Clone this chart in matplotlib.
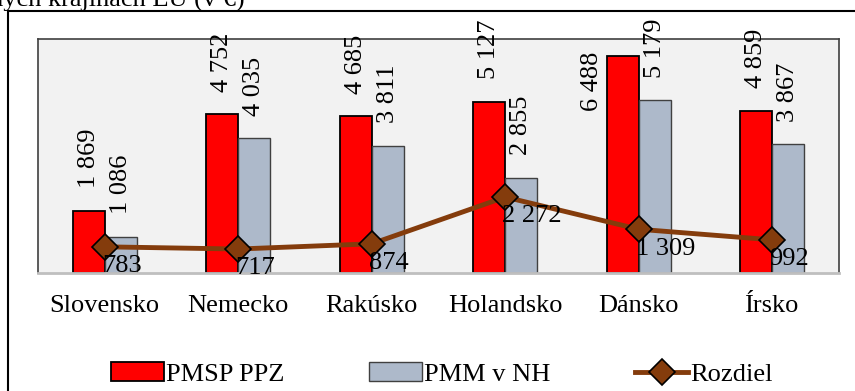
import numpy as np
import matplotlib
matplotlib.use('Agg')
import matplotlib.pyplot as plt
from matplotlib.patches import Rectangle

plt.rcParams['font.family'] = ['Liberation Serif', 'DejaVu Serif']

countries = ['Slovensko', 'Nemecko', 'Rakúsko', 'Holandsko', 'Dánsko', 'Írsko']
pmsp_ppz = [1869, 4752, 4685, 5127, 6488, 4859]
pmm_nh = [1086, 4035, 3811, 2855, 5179, 3867]
rozdiel = [783, 717, 874, 2272, 1309, 992]

def fmt(v):
    return '{:,}'.format(v).replace(',', ' ')

fs = 19
ymax = 7000
fig = plt.figure(figsize=(8.55, 3.91), dpi=100)
ax = fig.add_axes([38/855, 1-273/391, (839-38)/855, (273-39)/391])
ax.set_facecolor('#F2F2F2')

x = np.arange(len(countries))
w = 0.24
b1 = ax.bar(x - w/2, pmsp_ppz, w, color='#FF0000', edgecolor='black', linewidth=1.3, label='PMSP PPZ', zorder=2)
b2 = ax.bar(x + w/2, pmm_nh, w, color='#ADB9CA', edgecolor='#404040', linewidth=1.0, label='PMM v NH', zorder=2)
ln, = ax.plot(x, rozdiel, color='#843C0C', lw=3.5, marker='D', ms=13, mfc='#843C0C',
              mec='black', mew=1.2, label='Rozdiel', zorder=3)

for xi, v in zip(x - w/2, pmsp_ppz):
    if v > 0.9 * ymax:
        # no room above the bar: label goes to its left side
        ax.annotate(fmt(v), (xi - w/2, v), xytext=(-3, 3), textcoords='offset points', rotation=90,
                    ha='right', va='top', fontsize=fs, annotation_clip=False)
    else:
        ax.annotate(fmt(v), (xi, v), xytext=(0, 16), textcoords='offset points', rotation=90,
                    ha='center', va='bottom', fontsize=fs, annotation_clip=False)
for xi, v in zip(x + w/2, pmm_nh):
    ax.annotate(fmt(v), (xi, v), xytext=(0, 16), textcoords='offset points', rotation=90,
                ha='center', va='bottom', fontsize=fs, annotation_clip=False)
for xi, v in zip(x, rozdiel):
    ax.annotate(fmt(v), (xi, v), xytext=(-2, -14), textcoords='offset points',
                ha='left', va='center', fontsize=fs, annotation_clip=False, zorder=4)

ax.set_xlim(-0.5, 5.5)
ax.set_ylim(0, ymax)
ax.set_yticks([])
ax.set_xticks(x)
ax.set_xticklabels(countries, fontsize=fs)
ax.tick_params(axis='x', length=0, pad=16)
for s in ['left', 'top', 'right']:
    ax.spines[s].set_color('#404040')
    ax.spines[s].set_linewidth(1.2)
ax.spines['bottom'].set_color('#BFBFBF')
ax.spines['bottom'].set_linewidth(2)

fig.legend(handles=[b1, b2, ln], loc='center', bbox_to_anchor=(442/855, 1-374/391),
           ncol=3, frameon=False, fontsize=fs, handlelength=2.0, handleheight=0.7,
           handletextpad=0.1, columnspacing=3.2, borderaxespad=0)

# outer frame and clipped caption above it
fig.patches.append(Rectangle((8/855, -0.2), 1.2, 1.2 - 11/391, transform=fig.transFigure,
                             fill=False, edgecolor='black', lw=1.5))
fig.text(245/855, 1-5.5/391, 'vybraných krajinách EÚ (v €)', ha='right', va='baseline', fontsize=fs)

fig.savefig('out.png', dpi=100)
